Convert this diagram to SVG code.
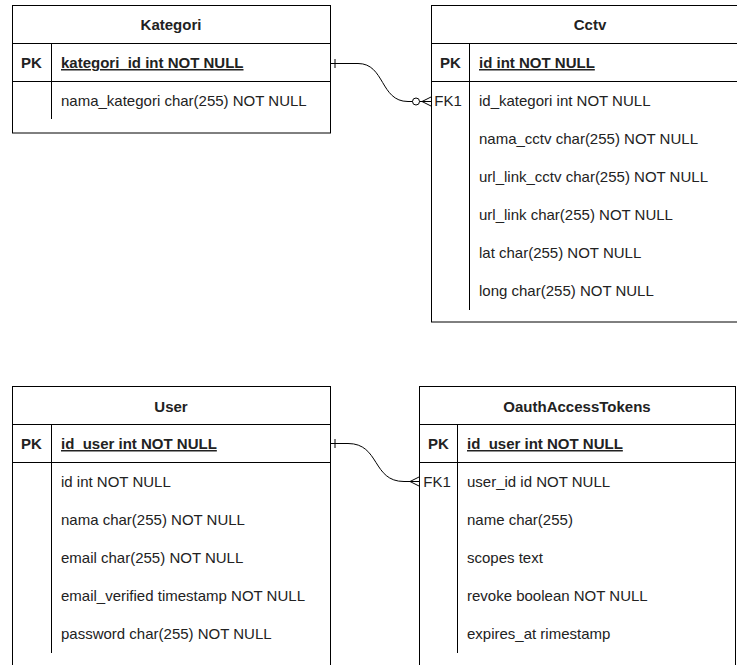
<svg xmlns="http://www.w3.org/2000/svg" width="737" height="665" viewBox="0 0 737 665">
  <style>
    .box { fill: #ffffff; stroke: #000000; stroke-width: 1; }
    .sep { stroke: #000000; stroke-width: 1; fill: none; }
    .t { font-family: "Liberation Sans", Arial, sans-serif; font-size: 15px; fill: #222222; }
    .h { font-weight: bold; text-anchor: middle; }
    .k { text-anchor: middle; }
    .b { font-weight: bold; }
    .u { font-weight: bold; text-decoration: underline; }
    .edge { stroke: #000000; stroke-width: 1; fill: none; }
  </style>
  <rect width="737" height="665" fill="#ffffff"/>

  <!-- Kategori table -->
  <g id="kategori">
    <rect class="box" x="12.5" y="5.5" width="318" height="127.5"/>
    <line class="sep" x1="12.5" y1="43.5" x2="330.5" y2="43.5"/>
    <line class="sep" x1="12.5" y1="81.5" x2="330.5" y2="81.5"/>
    <line class="sep" x1="51.5" y1="43.5" x2="51.5" y2="119"/>
    <text class="t h" x="171" y="30">Kategori</text>
    <text class="t k b" x="31.5" y="68">PK</text>
    <text class="t u" x="61" y="68">kategori_id int NOT NULL</text>
    <text class="t" x="61" y="106">nama_kategori char(255) NOT NULL</text>
  </g>

  <!-- Cctv table -->
  <g id="cctv">
    <rect class="box" x="431.5" y="5.5" width="320" height="316.5"/>
    <line class="sep" x1="431.5" y1="43.5" x2="751.5" y2="43.5"/>
    <line class="sep" x1="431.5" y1="81.5" x2="751.5" y2="81.5"/>
    <line class="sep" x1="469.5" y1="43.5" x2="469.5" y2="310"/>
    <text class="t h" x="590" y="30">Cctv</text>
    <text class="t k b" x="450.5" y="68">PK</text>
    <text class="t u" x="479" y="68">id int NOT NULL</text>
    <text class="t k" x="448" y="106">FK1</text>
    <text class="t" x="479" y="106">id_kategori int NOT NULL</text>
    <text class="t" x="479" y="144">nama_cctv char(255) NOT NULL</text>
    <text class="t" x="479" y="182">url_link_cctv char(255) NOT NULL</text>
    <text class="t" x="479" y="220">url_link char(255) NOT NULL</text>
    <text class="t" x="479" y="258">lat char(255) NOT NULL</text>
    <text class="t" x="479" y="296">long char(255) NOT NULL</text>
  </g>

  <!-- User table -->
  <g id="user">
    <rect class="box" x="12.5" y="386.5" width="318" height="300"/>
    <line class="sep" x1="12.5" y1="424.5" x2="330.5" y2="424.5"/>
    <line class="sep" x1="12.5" y1="462.5" x2="330.5" y2="462.5"/>
    <line class="sep" x1="51.5" y1="424.5" x2="51.5" y2="653"/>
    <text class="t h" x="171" y="412">User</text>
    <text class="t k b" x="31.5" y="449">PK</text>
    <text class="t u" x="61" y="449">id_user int NOT NULL</text>
    <text class="t" x="61" y="487">id int NOT NULL</text>
    <text class="t" x="61" y="525">nama char(255) NOT NULL</text>
    <text class="t" x="61" y="563">email char(255) NOT NULL</text>
    <text class="t" x="61" y="601">email_verified timestamp NOT NULL</text>
    <text class="t" x="61" y="639">password char(255) NOT NULL</text>
  </g>

  <!-- OauthAccessTokens table -->
  <g id="oauth-access-tokens">
    <rect class="box" x="419.5" y="386.5" width="316" height="300"/>
    <line class="sep" x1="419.5" y1="424.5" x2="735.5" y2="424.5"/>
    <line class="sep" x1="419.5" y1="462.5" x2="735.5" y2="462.5"/>
    <line class="sep" x1="457.5" y1="424.5" x2="457.5" y2="653"/>
    <text class="t h" x="577" y="412">OauthAccessTokens</text>
    <text class="t k b" x="438.5" y="449">PK</text>
    <text class="t u" x="467" y="449">id_user int NOT NULL</text>
    <text class="t k" x="437" y="487">FK1</text>
    <text class="t" x="467" y="487">user_id id NOT NULL</text>
    <text class="t" x="467" y="525">name char(255)</text>
    <text class="t" x="467" y="563">scopes text</text>
    <text class="t" x="467" y="601">revoke boolean NOT NULL</text>
    <text class="t" x="467" y="639">expires_at rimestamp</text>
  </g>

  <!-- Relationships -->
  <g id="connectors">
    <!-- Kategori.kategori_id (one) to Cctv.id_kategori (zero or many) -->
    <path class="edge" d="M330.5,63.5 H358 C385,63.5 380,101.5 408,101.5 H412.5"/>
    <line class="edge" x1="335" y1="59" x2="335" y2="68"/>
    <circle class="edge" cx="416" cy="101.5" r="3.5"/>
    <path class="edge" d="M431,97 L422,101.5 L431,106 M419.5,101.5 H431"/>
    <!-- User.id_user (one) to OauthAccessTokens.user_id (many) -->
    <path class="edge" d="M330.5,443.5 H348 C380,443.5 372,481.5 404,481.5 H419"/>
    <line class="edge" x1="335" y1="439" x2="335" y2="448"/>
    <path class="edge" d="M419,477 L410,481.5 L419,486"/>
  </g>
</svg>
